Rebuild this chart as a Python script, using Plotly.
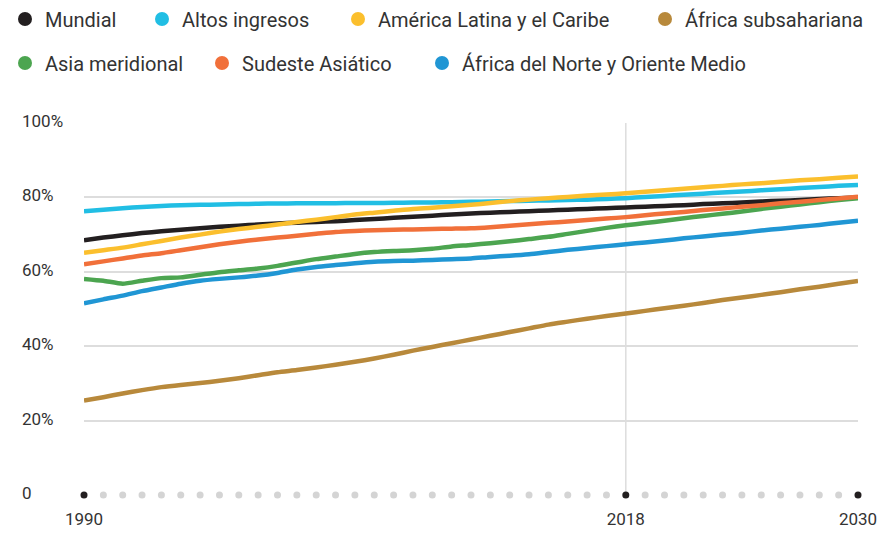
import plotly.graph_objects as go

years = list(range(1990, 2031))

mundial = [68.5, 69.2, 69.8, 70.4, 70.9, 71.3, 71.7, 72.1, 72.4, 72.7,
           73.0, 73.2, 73.4, 73.6, 73.9, 74.2, 74.5, 74.8, 75.1, 75.4,
           75.7, 75.9, 76.1, 76.3, 76.5, 76.7, 76.9, 77.1, 77.3, 77.5,
           77.7, 77.9, 78.2, 78.4, 78.6, 78.9, 79.1, 79.3, 79.6, 79.8, 80.0]
altos = [76.3, 76.7, 77.1, 77.4, 77.7, 77.9, 78.0, 78.1, 78.2, 78.3,
         78.35, 78.4, 78.4, 78.45, 78.5, 78.5, 78.55, 78.6, 78.65, 78.7,
         78.8, 78.9, 79.0, 79.1, 79.2, 79.3, 79.4, 79.6, 79.8, 80.1,
         80.4, 80.7, 81.0, 81.3, 81.6, 81.9, 82.2, 82.5, 82.8, 83.1, 83.3]
america = [65.1, 65.8, 66.5, 67.4, 68.3, 69.2, 70.0, 70.8, 71.5, 72.1,
           72.7, 73.4, 74.0, 74.7, 75.4, 75.9, 76.4, 76.9, 77.2, 77.6,
           78.0, 78.5, 79.0, 79.4, 79.8, 80.1, 80.5, 80.8, 81.1, 81.5,
           81.9, 82.3, 82.7, 83.1, 83.5, 83.8, 84.2, 84.6, 84.9, 85.3, 85.6]
subsahariana = [25.4, 26.3, 27.3, 28.2, 29.0, 29.6, 30.1, 30.7, 31.4, 32.2,
                33.0, 33.6, 34.3, 35.0, 35.8, 36.7, 37.7, 38.8, 39.8, 40.8,
                41.8, 42.8, 43.8, 44.8, 45.8, 46.6, 47.4, 48.1, 48.8, 49.5,
                50.2, 50.9, 51.6, 52.4, 53.1, 53.8, 54.5, 55.3, 56.0, 56.8, 57.5]
asia_meridional = [58.1, 57.6, 56.8, 57.6, 58.3, 58.5, 59.2, 59.9, 60.4, 60.9,
                   61.6, 62.5, 63.4, 64.1, 64.8, 65.3, 65.6, 65.8, 66.2, 66.8,
                   67.2, 67.7, 68.2, 68.8, 69.4, 70.2, 71.0, 71.8, 72.5, 73.1,
                   73.7, 74.4, 75.0, 75.6, 76.2, 76.9, 77.5, 78.1, 78.7, 79.3, 79.8]
sudeste = [62.0, 62.8, 63.6, 64.4, 65.0, 65.8, 66.6, 67.4, 68.1, 68.7,
           69.2, 69.7, 70.2, 70.7, 71.0, 71.2, 71.3, 71.4, 71.5, 71.6,
           71.7, 72.0, 72.4, 72.8, 73.2, 73.5, 73.9, 74.3, 74.7, 75.2,
           75.7, 76.1, 76.6, 77.0, 77.5, 77.9, 78.4, 78.8, 79.3, 79.7, 80.2]
norte_oriente = [51.5, 52.6, 53.6, 54.8, 55.8, 56.8, 57.6, 58.1, 58.5, 59.0,
                 59.7, 60.6, 61.3, 61.8, 62.3, 62.7, 62.9, 63.0, 63.2, 63.4,
                 63.6, 64.0, 64.3, 64.7, 65.3, 65.9, 66.4, 66.9, 67.4, 67.9,
                 68.4, 69.0, 69.5, 70.0, 70.5, 71.1, 71.6, 72.1, 72.6, 73.2, 73.7]

series_names = ["Mundial", "Altos ingresos", "América Latina y el Caribe",
                "África subsahariana", "Asia meridional", "Sudeste Asiático",
                "África del Norte y Oriente Medio"]
series_values = [mundial, altos, america, subsahariana, asia_meridional,
                 sudeste, norte_oriente]
colors = ["#231f20", "#21bee4", "#fbbf2d", "#b8893b", "#4ca550", "#f1703a", "#2096d4"]

y_ticks = [0, 20, 40, 60, 80, 100]
y_tick_labels = ["0", "20%", "40%", "60%", "80%", "100%"]
x_ticks = [1990, 2018, 2030]
x_tick_labels = ["1990", "2018", "2030"]

W, H = 890, 533
cond_font = "Roboto, sans-serif"
leg_font = "Roboto, Lato, sans-serif"
text_color = "#333333"

fig = go.Figure()

# axis dots
dot_colors = ["#231f20" if y in x_ticks else "#d4d4d4" for y in years]
fig.add_trace(go.Scatter(x=years, y=[0] * len(years), mode="markers",
                         marker=dict(size=7, color=dot_colors),
                         cliponaxis=False, showlegend=False, hoverinfo="skip"))

for name, vals, col in zip(series_names, series_values, colors):
    fig.add_trace(go.Scatter(x=years, y=vals, mode="lines", name=name,
                             line=dict(color=col, width=4.5, shape="spline", smoothing=0.6),
                             cliponaxis=False, showlegend=False))

# legend positions (dot centers in px)
leg_pos = [(25, 19), (162, 19), (358, 19), (665, 19),
           (25, 63), (222, 63), (442, 63)]
layout_legends = {}
for i, (name, col, (px, py)) in enumerate(zip(series_names, colors, leg_pos)):
    key = "legend" if i == 0 else f"legend{i+1}"
    fig.add_trace(go.Scatter(x=[None], y=[None], mode="markers", name=name,
                             marker=dict(size=14, color=col), legend=key,
                             showlegend=True))
    layout_legends[key] = dict(
        x=(px - 20) / W, y=1 - py / H, xref="container", yref="container",
        xanchor="left", yanchor="middle", orientation="h",
        font=dict(family=leg_font, size=20, color=text_color),
        bgcolor="rgba(0,0,0,0)", borderwidth=0, itemwidth=30,
    )

fig.add_shape(type="line", x0=2018, x1=2018, y0=0, y1=100, xref="x", yref="y",
              line=dict(color="#dddddd", width=1.5), layer="below")

for v, t in zip(y_ticks, y_tick_labels):
    fig.add_annotation(x=-64 / 774, xref="paper", y=v, yref="y", text=t,
                       showarrow=False, xanchor="left", yanchor="middle", yshift=2,
                       font=dict(family=cond_font, size=17, color=text_color))

fig.update_layout(
    width=W, height=H,
    margin=dict(l=84, r=32, t=123, b=38, autoexpand=False),
    plot_bgcolor="white", paper_bgcolor="white",
    xaxis=dict(range=[1990, 2030], tickvals=x_ticks, ticktext=x_tick_labels,
               showgrid=False, zeroline=False, showline=False, ticks="",
               ticklabelstandoff=12, automargin=False,
               tickfont=dict(family=cond_font, size=17, color=text_color)),
    yaxis=dict(range=[0, 100], tickvals=[20, 40, 60, 80, 100], showticklabels=False,
               showgrid=True, gridcolor="#dddddd", gridwidth=1.5, automargin=False,
               zeroline=False, showline=False, ticks=""),
    hovermode=False,
    **layout_legends,
)

fig.write_html("out.html", config={"displayModeBar": False},
               post_script="document.body.style.margin='0';document.body.style.overflow='hidden';")
